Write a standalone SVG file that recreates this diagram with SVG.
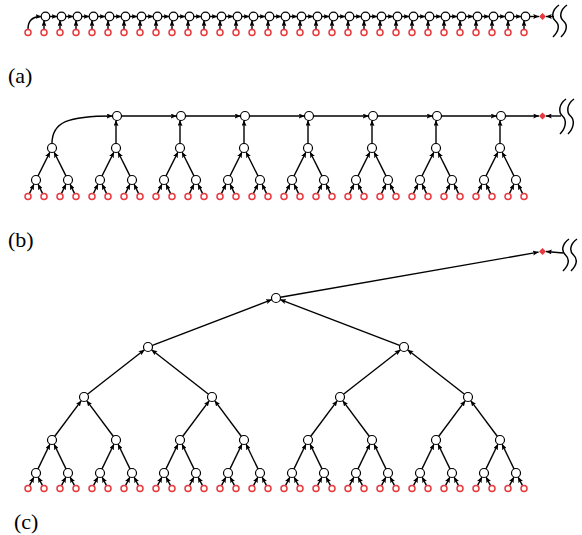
<svg xmlns="http://www.w3.org/2000/svg" width="582" height="535" viewBox="0 0 582 535">
<style>
.n{fill:#fff;stroke:#000;stroke-width:1.2}
.lf{fill:#fff;stroke:#e8383d;stroke-width:1.5}
.dm{fill:#e8383d}
.e{stroke:#000;stroke-width:1.4;fill:none;marker-end:url(#ah)}
.wv{fill:none;stroke:#000;stroke-width:1.5}
</style>
<defs>
<marker id="ah" markerUnits="userSpaceOnUse" markerWidth="6" markerHeight="5" refX="5.8" refY="2.5" orient="auto">
<path d="M0,0 L6,2.5 L0,5 L1.2,2.5 z" fill="#000"/>
</marker>
</defs>
<rect width="582" height="535" fill="#fff"/>

<!-- ============ (a) ============ -->
<g id="a-connectors">
<path class="e" d="M28,29 C28,20 33,16.5 41.3,16.5"/>
<line class="e" x1="44" y1="29" x2="44" y2="20.5"/><line class="e" x1="60" y1="29" x2="60" y2="20.5"/><line class="e" x1="76" y1="29" x2="76" y2="20.5"/><line class="e" x1="92" y1="29" x2="92" y2="20.5"/><line class="e" x1="108" y1="29" x2="108" y2="20.5"/><line class="e" x1="124" y1="29" x2="124" y2="20.5"/><line class="e" x1="140" y1="29" x2="140" y2="20.5"/><line class="e" x1="156" y1="29" x2="156" y2="20.5"/><line class="e" x1="172" y1="29" x2="172" y2="20.5"/><line class="e" x1="188" y1="29" x2="188" y2="20.5"/><line class="e" x1="204" y1="29" x2="204" y2="20.5"/><line class="e" x1="220" y1="29" x2="220" y2="20.5"/><line class="e" x1="236" y1="29" x2="236" y2="20.5"/><line class="e" x1="252" y1="29" x2="252" y2="20.5"/><line class="e" x1="268" y1="29" x2="268" y2="20.5"/><line class="e" x1="284" y1="29" x2="284" y2="20.5"/><line class="e" x1="300" y1="29" x2="300" y2="20.5"/><line class="e" x1="316" y1="29" x2="316" y2="20.5"/><line class="e" x1="332" y1="29" x2="332" y2="20.5"/><line class="e" x1="348" y1="29" x2="348" y2="20.5"/><line class="e" x1="364" y1="29" x2="364" y2="20.5"/><line class="e" x1="380" y1="29" x2="380" y2="20.5"/><line class="e" x1="396" y1="29" x2="396" y2="20.5"/><line class="e" x1="412" y1="29" x2="412" y2="20.5"/><line class="e" x1="428" y1="29" x2="428" y2="20.5"/><line class="e" x1="444" y1="29" x2="444" y2="20.5"/><line class="e" x1="460" y1="29" x2="460" y2="20.5"/><line class="e" x1="476" y1="29" x2="476" y2="20.5"/><line class="e" x1="492" y1="29" x2="492" y2="20.5"/><line class="e" x1="508" y1="29" x2="508" y2="20.5"/><line class="e" x1="524" y1="29" x2="524" y2="20.5"/>
<line class="e" x1="49.8" y1="16.5" x2="57.3" y2="16.5"/><line class="e" x1="65.8" y1="16.5" x2="73.3" y2="16.5"/><line class="e" x1="81.8" y1="16.5" x2="89.3" y2="16.5"/><line class="e" x1="97.8" y1="16.5" x2="105.3" y2="16.5"/><line class="e" x1="113.8" y1="16.5" x2="121.3" y2="16.5"/><line class="e" x1="129.8" y1="16.5" x2="137.3" y2="16.5"/><line class="e" x1="145.8" y1="16.5" x2="153.3" y2="16.5"/><line class="e" x1="161.8" y1="16.5" x2="169.3" y2="16.5"/><line class="e" x1="177.8" y1="16.5" x2="185.3" y2="16.5"/><line class="e" x1="193.8" y1="16.5" x2="201.3" y2="16.5"/><line class="e" x1="209.8" y1="16.5" x2="217.3" y2="16.5"/><line class="e" x1="225.8" y1="16.5" x2="233.3" y2="16.5"/><line class="e" x1="241.8" y1="16.5" x2="249.3" y2="16.5"/><line class="e" x1="257.8" y1="16.5" x2="265.3" y2="16.5"/><line class="e" x1="273.8" y1="16.5" x2="281.3" y2="16.5"/><line class="e" x1="289.8" y1="16.5" x2="297.3" y2="16.5"/><line class="e" x1="305.8" y1="16.5" x2="313.3" y2="16.5"/><line class="e" x1="321.8" y1="16.5" x2="329.3" y2="16.5"/><line class="e" x1="337.8" y1="16.5" x2="345.3" y2="16.5"/><line class="e" x1="353.8" y1="16.5" x2="361.3" y2="16.5"/><line class="e" x1="369.8" y1="16.5" x2="377.3" y2="16.5"/><line class="e" x1="385.8" y1="16.5" x2="393.3" y2="16.5"/><line class="e" x1="401.8" y1="16.5" x2="409.3" y2="16.5"/><line class="e" x1="417.8" y1="16.5" x2="425.3" y2="16.5"/><line class="e" x1="433.8" y1="16.5" x2="441.3" y2="16.5"/><line class="e" x1="449.8" y1="16.5" x2="457.3" y2="16.5"/><line class="e" x1="465.8" y1="16.5" x2="473.3" y2="16.5"/><line class="e" x1="481.8" y1="16.5" x2="489.3" y2="16.5"/><line class="e" x1="497.8" y1="16.5" x2="505.3" y2="16.5"/><line class="e" x1="513.8" y1="16.5" x2="521.3" y2="16.5"/>
<line class="e" x1="529.8" y1="16.5" x2="539" y2="16.5"/>
<line class="e" x1="554" y1="16.5" x2="546" y2="16.5"/>
</g>
<g id="a-leaves">
<g id="a-leaf-0"><circle class="lf" cx="28" cy="32.5" r="3"/></g><g id="a-leaf-1"><circle class="lf" cx="44" cy="32.5" r="3"/></g><g id="a-leaf-2"><circle class="lf" cx="60" cy="32.5" r="3"/></g><g id="a-leaf-3"><circle class="lf" cx="76" cy="32.5" r="3"/></g><g id="a-leaf-4"><circle class="lf" cx="92" cy="32.5" r="3"/></g><g id="a-leaf-5"><circle class="lf" cx="108" cy="32.5" r="3"/></g><g id="a-leaf-6"><circle class="lf" cx="124" cy="32.5" r="3"/></g><g id="a-leaf-7"><circle class="lf" cx="140" cy="32.5" r="3"/></g><g id="a-leaf-8"><circle class="lf" cx="156" cy="32.5" r="3"/></g><g id="a-leaf-9"><circle class="lf" cx="172" cy="32.5" r="3"/></g><g id="a-leaf-10"><circle class="lf" cx="188" cy="32.5" r="3"/></g><g id="a-leaf-11"><circle class="lf" cx="204" cy="32.5" r="3"/></g><g id="a-leaf-12"><circle class="lf" cx="220" cy="32.5" r="3"/></g><g id="a-leaf-13"><circle class="lf" cx="236" cy="32.5" r="3"/></g><g id="a-leaf-14"><circle class="lf" cx="252" cy="32.5" r="3"/></g><g id="a-leaf-15"><circle class="lf" cx="268" cy="32.5" r="3"/></g><g id="a-leaf-16"><circle class="lf" cx="284" cy="32.5" r="3"/></g><g id="a-leaf-17"><circle class="lf" cx="300" cy="32.5" r="3"/></g><g id="a-leaf-18"><circle class="lf" cx="316" cy="32.5" r="3"/></g><g id="a-leaf-19"><circle class="lf" cx="332" cy="32.5" r="3"/></g><g id="a-leaf-20"><circle class="lf" cx="348" cy="32.5" r="3"/></g><g id="a-leaf-21"><circle class="lf" cx="364" cy="32.5" r="3"/></g><g id="a-leaf-22"><circle class="lf" cx="380" cy="32.5" r="3"/></g><g id="a-leaf-23"><circle class="lf" cx="396" cy="32.5" r="3"/></g><g id="a-leaf-24"><circle class="lf" cx="412" cy="32.5" r="3"/></g><g id="a-leaf-25"><circle class="lf" cx="428" cy="32.5" r="3"/></g><g id="a-leaf-26"><circle class="lf" cx="444" cy="32.5" r="3"/></g><g id="a-leaf-27"><circle class="lf" cx="460" cy="32.5" r="3"/></g><g id="a-leaf-28"><circle class="lf" cx="476" cy="32.5" r="3"/></g><g id="a-leaf-29"><circle class="lf" cx="492" cy="32.5" r="3"/></g><g id="a-leaf-30"><circle class="lf" cx="508" cy="32.5" r="3"/></g><g id="a-leaf-31"><circle class="lf" cx="524" cy="32.5" r="3"/></g>
</g>
<g id="a-chain">
<g id="a-n-1"><circle class="n" cx="45.5" cy="16.5" r="4.3"/></g><g id="a-n-2"><circle class="n" cx="61.5" cy="16.5" r="4.3"/></g><g id="a-n-3"><circle class="n" cx="77.5" cy="16.5" r="4.3"/></g><g id="a-n-4"><circle class="n" cx="93.5" cy="16.5" r="4.3"/></g><g id="a-n-5"><circle class="n" cx="109.5" cy="16.5" r="4.3"/></g><g id="a-n-6"><circle class="n" cx="125.5" cy="16.5" r="4.3"/></g><g id="a-n-7"><circle class="n" cx="141.5" cy="16.5" r="4.3"/></g><g id="a-n-8"><circle class="n" cx="157.5" cy="16.5" r="4.3"/></g><g id="a-n-9"><circle class="n" cx="173.5" cy="16.5" r="4.3"/></g><g id="a-n-10"><circle class="n" cx="189.5" cy="16.5" r="4.3"/></g><g id="a-n-11"><circle class="n" cx="205.5" cy="16.5" r="4.3"/></g><g id="a-n-12"><circle class="n" cx="221.5" cy="16.5" r="4.3"/></g><g id="a-n-13"><circle class="n" cx="237.5" cy="16.5" r="4.3"/></g><g id="a-n-14"><circle class="n" cx="253.5" cy="16.5" r="4.3"/></g><g id="a-n-15"><circle class="n" cx="269.5" cy="16.5" r="4.3"/></g><g id="a-n-16"><circle class="n" cx="285.5" cy="16.5" r="4.3"/></g><g id="a-n-17"><circle class="n" cx="301.5" cy="16.5" r="4.3"/></g><g id="a-n-18"><circle class="n" cx="317.5" cy="16.5" r="4.3"/></g><g id="a-n-19"><circle class="n" cx="333.5" cy="16.5" r="4.3"/></g><g id="a-n-20"><circle class="n" cx="349.5" cy="16.5" r="4.3"/></g><g id="a-n-21"><circle class="n" cx="365.5" cy="16.5" r="4.3"/></g><g id="a-n-22"><circle class="n" cx="381.5" cy="16.5" r="4.3"/></g><g id="a-n-23"><circle class="n" cx="397.5" cy="16.5" r="4.3"/></g><g id="a-n-24"><circle class="n" cx="413.5" cy="16.5" r="4.3"/></g><g id="a-n-25"><circle class="n" cx="429.5" cy="16.5" r="4.3"/></g><g id="a-n-26"><circle class="n" cx="445.5" cy="16.5" r="4.3"/></g><g id="a-n-27"><circle class="n" cx="461.5" cy="16.5" r="4.3"/></g><g id="a-n-28"><circle class="n" cx="477.5" cy="16.5" r="4.3"/></g><g id="a-n-29"><circle class="n" cx="493.5" cy="16.5" r="4.3"/></g><g id="a-n-30"><circle class="n" cx="509.5" cy="16.5" r="4.3"/></g><g id="a-n-31"><circle class="n" cx="525.5" cy="16.5" r="4.3"/></g>
</g>
<g id="a-out"><polygon class="dm" points="542.5,13 546,16.5 542.5,20 539,16.5"/></g>
<g id="a-wave"><path class="wv" d="M559,5 C552,10 551,17 555.5,21 C560,25 559,31 553,37"/><path class="wv" d="M567,5 C560,10 559,17 563.5,21 C568,25 567,31 561,37"/></g>
<text x="8" y="83" font-family="'Liberation Serif','Times New Roman',serif" font-size="22">(a)</text>

<!-- ============ (b) ============ -->
<g id="b-connectors">
<path class="e" d="M52,143.5 C52,122 68,116 112.5,116"/>
<line class="e" x1="116" y1="143.5" x2="116" y2="120.3"/><line class="e" x1="180" y1="143.5" x2="180" y2="120.3"/><line class="e" x1="244" y1="143.5" x2="244" y2="120.3"/><line class="e" x1="308" y1="143.5" x2="308" y2="120.3"/><line class="e" x1="372" y1="143.5" x2="372" y2="120.3"/><line class="e" x1="436" y1="143.5" x2="436" y2="120.3"/><line class="e" x1="500" y1="143.5" x2="500" y2="120.3"/>
<line class="e" x1="121.5" y1="116" x2="176.5" y2="116"/><line class="e" x1="185.5" y1="116" x2="240.5" y2="116"/><line class="e" x1="249.5" y1="116" x2="304.5" y2="116"/><line class="e" x1="313.5" y1="116" x2="368.5" y2="116"/><line class="e" x1="377.5" y1="116" x2="432.5" y2="116"/><line class="e" x1="441.5" y1="116" x2="496.5" y2="116"/>
<line class="e" x1="505.5" y1="116" x2="539" y2="116"/>
<line class="e" x1="561" y1="116" x2="546" y2="116"/>
<line class="e" x1="37.79" y1="176.42" x2="50.0" y2="152.0"/><line class="e" x1="66.21" y1="176.42" x2="54.0" y2="152.0"/>
<line class="e" x1="101.79" y1="176.42" x2="114.0" y2="152.0"/><line class="e" x1="130.21" y1="176.42" x2="118.0" y2="152.0"/>
<line class="e" x1="165.79" y1="176.42" x2="178.0" y2="152.0"/><line class="e" x1="194.21" y1="176.42" x2="182.0" y2="152.0"/>
<line class="e" x1="229.79" y1="176.42" x2="242.0" y2="152.0"/><line class="e" x1="258.21" y1="176.42" x2="246.0" y2="152.0"/>
<line class="e" x1="293.79" y1="176.42" x2="306.0" y2="152.0"/><line class="e" x1="322.21" y1="176.42" x2="310.0" y2="152.0"/>
<line class="e" x1="357.79" y1="176.42" x2="370.0" y2="152.0"/><line class="e" x1="386.21" y1="176.42" x2="374.0" y2="152.0"/>
<line class="e" x1="421.79" y1="176.42" x2="434.0" y2="152.0"/><line class="e" x1="450.21" y1="176.42" x2="438.0" y2="152.0"/>
<line class="e" x1="485.79" y1="176.42" x2="498.0" y2="152.0"/><line class="e" x1="514.21" y1="176.42" x2="502.0" y2="152.0"/>
<line class="e" x1="29.53" y1="193.35" x2="34.04" y2="184.05"/><line class="e" x1="42.47" y1="193.35" x2="37.96" y2="184.05"/>
<line class="e" x1="61.53" y1="193.35" x2="66.04" y2="184.05"/><line class="e" x1="74.47" y1="193.35" x2="69.96" y2="184.05"/>
<line class="e" x1="93.53" y1="193.35" x2="98.04" y2="184.05"/><line class="e" x1="106.47" y1="193.35" x2="101.96" y2="184.05"/>
<line class="e" x1="125.53" y1="193.35" x2="130.04" y2="184.05"/><line class="e" x1="138.47" y1="193.35" x2="133.96" y2="184.05"/>
<line class="e" x1="157.53" y1="193.35" x2="162.04" y2="184.05"/><line class="e" x1="170.47" y1="193.35" x2="165.96" y2="184.05"/>
<line class="e" x1="189.53" y1="193.35" x2="194.04" y2="184.05"/><line class="e" x1="202.47" y1="193.35" x2="197.96" y2="184.05"/>
<line class="e" x1="221.53" y1="193.35" x2="226.04" y2="184.05"/><line class="e" x1="234.47" y1="193.35" x2="229.96" y2="184.05"/>
<line class="e" x1="253.53" y1="193.35" x2="258.04" y2="184.05"/><line class="e" x1="266.47" y1="193.35" x2="261.96" y2="184.05"/>
<line class="e" x1="285.53" y1="193.35" x2="290.04" y2="184.05"/><line class="e" x1="298.47" y1="193.35" x2="293.96" y2="184.05"/>
<line class="e" x1="317.53" y1="193.35" x2="322.04" y2="184.05"/><line class="e" x1="330.47" y1="193.35" x2="325.96" y2="184.05"/>
<line class="e" x1="349.53" y1="193.35" x2="354.04" y2="184.05"/><line class="e" x1="362.47" y1="193.35" x2="357.96" y2="184.05"/>
<line class="e" x1="381.53" y1="193.35" x2="386.04" y2="184.05"/><line class="e" x1="394.47" y1="193.35" x2="389.96" y2="184.05"/>
<line class="e" x1="413.53" y1="193.35" x2="418.04" y2="184.05"/><line class="e" x1="426.47" y1="193.35" x2="421.96" y2="184.05"/>
<line class="e" x1="445.53" y1="193.35" x2="450.04" y2="184.05"/><line class="e" x1="458.47" y1="193.35" x2="453.96" y2="184.05"/>
<line class="e" x1="477.53" y1="193.35" x2="482.04" y2="184.05"/><line class="e" x1="490.47" y1="193.35" x2="485.96" y2="184.05"/>
<line class="e" x1="509.53" y1="193.35" x2="514.04" y2="184.05"/><line class="e" x1="522.47" y1="193.35" x2="517.96" y2="184.05"/>
</g>
<g id="b-leaves">
<g id="b-leaf-0"><circle class="lf" cx="28" cy="196.5" r="3"/></g><g id="b-leaf-1"><circle class="lf" cx="44" cy="196.5" r="3"/></g><g id="b-leaf-2"><circle class="lf" cx="60" cy="196.5" r="3"/></g><g id="b-leaf-3"><circle class="lf" cx="76" cy="196.5" r="3"/></g><g id="b-leaf-4"><circle class="lf" cx="92" cy="196.5" r="3"/></g><g id="b-leaf-5"><circle class="lf" cx="108" cy="196.5" r="3"/></g><g id="b-leaf-6"><circle class="lf" cx="124" cy="196.5" r="3"/></g><g id="b-leaf-7"><circle class="lf" cx="140" cy="196.5" r="3"/></g><g id="b-leaf-8"><circle class="lf" cx="156" cy="196.5" r="3"/></g><g id="b-leaf-9"><circle class="lf" cx="172" cy="196.5" r="3"/></g><g id="b-leaf-10"><circle class="lf" cx="188" cy="196.5" r="3"/></g><g id="b-leaf-11"><circle class="lf" cx="204" cy="196.5" r="3"/></g><g id="b-leaf-12"><circle class="lf" cx="220" cy="196.5" r="3"/></g><g id="b-leaf-13"><circle class="lf" cx="236" cy="196.5" r="3"/></g><g id="b-leaf-14"><circle class="lf" cx="252" cy="196.5" r="3"/></g><g id="b-leaf-15"><circle class="lf" cx="268" cy="196.5" r="3"/></g><g id="b-leaf-16"><circle class="lf" cx="284" cy="196.5" r="3"/></g><g id="b-leaf-17"><circle class="lf" cx="300" cy="196.5" r="3"/></g><g id="b-leaf-18"><circle class="lf" cx="316" cy="196.5" r="3"/></g><g id="b-leaf-19"><circle class="lf" cx="332" cy="196.5" r="3"/></g><g id="b-leaf-20"><circle class="lf" cx="348" cy="196.5" r="3"/></g><g id="b-leaf-21"><circle class="lf" cx="364" cy="196.5" r="3"/></g><g id="b-leaf-22"><circle class="lf" cx="380" cy="196.5" r="3"/></g><g id="b-leaf-23"><circle class="lf" cx="396" cy="196.5" r="3"/></g><g id="b-leaf-24"><circle class="lf" cx="412" cy="196.5" r="3"/></g><g id="b-leaf-25"><circle class="lf" cx="428" cy="196.5" r="3"/></g><g id="b-leaf-26"><circle class="lf" cx="444" cy="196.5" r="3"/></g><g id="b-leaf-27"><circle class="lf" cx="460" cy="196.5" r="3"/></g><g id="b-leaf-28"><circle class="lf" cx="476" cy="196.5" r="3"/></g><g id="b-leaf-29"><circle class="lf" cx="492" cy="196.5" r="3"/></g><g id="b-leaf-30"><circle class="lf" cx="508" cy="196.5" r="3"/></g><g id="b-leaf-31"><circle class="lf" cx="524" cy="196.5" r="3"/></g>
</g>
<g id="b-level1">
<g id="b-l1-0"><circle class="n" cx="36" cy="180" r="4.5"/></g><g id="b-l1-1"><circle class="n" cx="68" cy="180" r="4.5"/></g><g id="b-l1-2"><circle class="n" cx="100" cy="180" r="4.5"/></g><g id="b-l1-3"><circle class="n" cx="132" cy="180" r="4.5"/></g><g id="b-l1-4"><circle class="n" cx="164" cy="180" r="4.5"/></g><g id="b-l1-5"><circle class="n" cx="196" cy="180" r="4.5"/></g><g id="b-l1-6"><circle class="n" cx="228" cy="180" r="4.5"/></g><g id="b-l1-7"><circle class="n" cx="260" cy="180" r="4.5"/></g><g id="b-l1-8"><circle class="n" cx="292" cy="180" r="4.5"/></g><g id="b-l1-9"><circle class="n" cx="324" cy="180" r="4.5"/></g><g id="b-l1-10"><circle class="n" cx="356" cy="180" r="4.5"/></g><g id="b-l1-11"><circle class="n" cx="388" cy="180" r="4.5"/></g><g id="b-l1-12"><circle class="n" cx="420" cy="180" r="4.5"/></g><g id="b-l1-13"><circle class="n" cx="452" cy="180" r="4.5"/></g><g id="b-l1-14"><circle class="n" cx="484" cy="180" r="4.5"/></g><g id="b-l1-15"><circle class="n" cx="516" cy="180" r="4.5"/></g>
</g>
<g id="b-level2">
<g id="b-r-0"><circle class="n" cx="52" cy="148" r="4.5"/></g><g id="b-r-1"><circle class="n" cx="116" cy="148" r="4.5"/></g><g id="b-r-2"><circle class="n" cx="180" cy="148" r="4.5"/></g><g id="b-r-3"><circle class="n" cx="244" cy="148" r="4.5"/></g><g id="b-r-4"><circle class="n" cx="308" cy="148" r="4.5"/></g><g id="b-r-5"><circle class="n" cx="372" cy="148" r="4.5"/></g><g id="b-r-6"><circle class="n" cx="436" cy="148" r="4.5"/></g><g id="b-r-7"><circle class="n" cx="500" cy="148" r="4.5"/></g>
</g>
<g id="b-chain">
<g id="b-c-1"><circle class="n" cx="117" cy="116" r="4.5"/></g><g id="b-c-2"><circle class="n" cx="181" cy="116" r="4.5"/></g><g id="b-c-3"><circle class="n" cx="245" cy="116" r="4.5"/></g><g id="b-c-4"><circle class="n" cx="309" cy="116" r="4.5"/></g><g id="b-c-5"><circle class="n" cx="373" cy="116" r="4.5"/></g><g id="b-c-6"><circle class="n" cx="437" cy="116" r="4.5"/></g><g id="b-c-7"><circle class="n" cx="501" cy="116" r="4.5"/></g>
</g>
<g id="b-out"><polygon class="dm" points="542.5,112.5 546,116 542.5,119.5 539,116"/></g>
<g id="b-wave"><path class="wv" d="M566,99 C559,104 558,112 562.5,116 C567,120 566,128 560,134"/><path class="wv" d="M574,99 C567,104 566,112 570.5,116 C575,120 574,128 568,134"/></g>
<text x="8" y="247" font-family="'Liberation Serif','Times New Roman',serif" font-size="22">(b)</text>

<!-- ============ (c) ============ -->
<g id="c-connectors">
<line class="e" x1="280.4" y1="297.2" x2="538.6" y2="252.1"/>
<line class="e" x1="563" y1="253" x2="546" y2="251.5"/>
<line class="e" x1="151.74" y1="345.57" x2="271.8" y2="299.6"/><line class="e" x1="400.26" y1="345.57" x2="280.2" y2="299.6"/>
<line class="e" x1="87.15" y1="394.54" x2="144.45" y2="349.77"/><line class="e" x1="208.85" y1="394.54" x2="151.55" y2="349.77"/>
<line class="e" x1="343.15" y1="394.54" x2="400.45" y2="349.77"/><line class="e" x1="464.85" y1="394.54" x2="407.55" y2="349.77"/>
<line class="e" x1="54.39" y1="436.79" x2="81.31" y2="400.61"/><line class="e" x1="113.61" y1="436.79" x2="86.69" y2="400.61"/>
<line class="e" x1="182.39" y1="436.79" x2="209.31" y2="400.61"/><line class="e" x1="241.61" y1="436.79" x2="214.69" y2="400.61"/>
<line class="e" x1="310.39" y1="436.79" x2="337.31" y2="400.61"/><line class="e" x1="369.61" y1="436.79" x2="342.69" y2="400.61"/>
<line class="e" x1="438.39" y1="436.79" x2="465.31" y2="400.61"/><line class="e" x1="497.61" y1="436.79" x2="470.69" y2="400.61"/>
<line class="e" x1="37.75" y1="469.4" x2="50.04" y2="444.05"/><line class="e" x1="66.25" y1="469.4" x2="53.96" y2="444.05"/>
<line class="e" x1="101.75" y1="469.4" x2="114.04" y2="444.05"/><line class="e" x1="130.25" y1="469.4" x2="117.96" y2="444.05"/>
<line class="e" x1="165.75" y1="469.4" x2="178.04" y2="444.05"/><line class="e" x1="194.25" y1="469.4" x2="181.96" y2="444.05"/>
<line class="e" x1="229.75" y1="469.4" x2="242.04" y2="444.05"/><line class="e" x1="258.25" y1="469.4" x2="245.96" y2="444.05"/>
<line class="e" x1="293.75" y1="469.4" x2="306.04" y2="444.05"/><line class="e" x1="322.25" y1="469.4" x2="309.96" y2="444.05"/>
<line class="e" x1="357.75" y1="469.4" x2="370.04" y2="444.05"/><line class="e" x1="386.25" y1="469.4" x2="373.96" y2="444.05"/>
<line class="e" x1="421.75" y1="469.4" x2="434.04" y2="444.05"/><line class="e" x1="450.25" y1="469.4" x2="437.96" y2="444.05"/>
<line class="e" x1="485.75" y1="469.4" x2="498.04" y2="444.05"/><line class="e" x1="514.25" y1="469.4" x2="501.96" y2="444.05"/>
<line class="e" x1="29.61" y1="485.39" x2="33.94" y2="477.0"/><line class="e" x1="42.39" y1="485.39" x2="38.06" y2="477.0"/>
<line class="e" x1="61.61" y1="485.39" x2="65.94" y2="477.0"/><line class="e" x1="74.39" y1="485.39" x2="70.06" y2="477.0"/>
<line class="e" x1="93.61" y1="485.39" x2="97.94" y2="477.0"/><line class="e" x1="106.39" y1="485.39" x2="102.06" y2="477.0"/>
<line class="e" x1="125.61" y1="485.39" x2="129.94" y2="477.0"/><line class="e" x1="138.39" y1="485.39" x2="134.06" y2="477.0"/>
<line class="e" x1="157.61" y1="485.39" x2="161.94" y2="477.0"/><line class="e" x1="170.39" y1="485.39" x2="166.06" y2="477.0"/>
<line class="e" x1="189.61" y1="485.39" x2="193.94" y2="477.0"/><line class="e" x1="202.39" y1="485.39" x2="198.06" y2="477.0"/>
<line class="e" x1="221.61" y1="485.39" x2="225.94" y2="477.0"/><line class="e" x1="234.39" y1="485.39" x2="230.06" y2="477.0"/>
<line class="e" x1="253.61" y1="485.39" x2="257.94" y2="477.0"/><line class="e" x1="266.39" y1="485.39" x2="262.06" y2="477.0"/>
<line class="e" x1="285.61" y1="485.39" x2="289.94" y2="477.0"/><line class="e" x1="298.39" y1="485.39" x2="294.06" y2="477.0"/>
<line class="e" x1="317.61" y1="485.39" x2="321.94" y2="477.0"/><line class="e" x1="330.39" y1="485.39" x2="326.06" y2="477.0"/>
<line class="e" x1="349.61" y1="485.39" x2="353.94" y2="477.0"/><line class="e" x1="362.39" y1="485.39" x2="358.06" y2="477.0"/>
<line class="e" x1="381.61" y1="485.39" x2="385.94" y2="477.0"/><line class="e" x1="394.39" y1="485.39" x2="390.06" y2="477.0"/>
<line class="e" x1="413.61" y1="485.39" x2="417.94" y2="477.0"/><line class="e" x1="426.39" y1="485.39" x2="422.06" y2="477.0"/>
<line class="e" x1="445.61" y1="485.39" x2="449.94" y2="477.0"/><line class="e" x1="458.39" y1="485.39" x2="454.06" y2="477.0"/>
<line class="e" x1="477.61" y1="485.39" x2="481.94" y2="477.0"/><line class="e" x1="490.39" y1="485.39" x2="486.06" y2="477.0"/>
<line class="e" x1="509.61" y1="485.39" x2="513.94" y2="477.0"/><line class="e" x1="522.39" y1="485.39" x2="518.06" y2="477.0"/>
</g>
<g id="c-leaves">
<g id="c-leaf-0"><circle class="lf" cx="28" cy="488.5" r="3"/></g><g id="c-leaf-1"><circle class="lf" cx="44" cy="488.5" r="3"/></g><g id="c-leaf-2"><circle class="lf" cx="60" cy="488.5" r="3"/></g><g id="c-leaf-3"><circle class="lf" cx="76" cy="488.5" r="3"/></g><g id="c-leaf-4"><circle class="lf" cx="92" cy="488.5" r="3"/></g><g id="c-leaf-5"><circle class="lf" cx="108" cy="488.5" r="3"/></g><g id="c-leaf-6"><circle class="lf" cx="124" cy="488.5" r="3"/></g><g id="c-leaf-7"><circle class="lf" cx="140" cy="488.5" r="3"/></g><g id="c-leaf-8"><circle class="lf" cx="156" cy="488.5" r="3"/></g><g id="c-leaf-9"><circle class="lf" cx="172" cy="488.5" r="3"/></g><g id="c-leaf-10"><circle class="lf" cx="188" cy="488.5" r="3"/></g><g id="c-leaf-11"><circle class="lf" cx="204" cy="488.5" r="3"/></g><g id="c-leaf-12"><circle class="lf" cx="220" cy="488.5" r="3"/></g><g id="c-leaf-13"><circle class="lf" cx="236" cy="488.5" r="3"/></g><g id="c-leaf-14"><circle class="lf" cx="252" cy="488.5" r="3"/></g><g id="c-leaf-15"><circle class="lf" cx="268" cy="488.5" r="3"/></g><g id="c-leaf-16"><circle class="lf" cx="284" cy="488.5" r="3"/></g><g id="c-leaf-17"><circle class="lf" cx="300" cy="488.5" r="3"/></g><g id="c-leaf-18"><circle class="lf" cx="316" cy="488.5" r="3"/></g><g id="c-leaf-19"><circle class="lf" cx="332" cy="488.5" r="3"/></g><g id="c-leaf-20"><circle class="lf" cx="348" cy="488.5" r="3"/></g><g id="c-leaf-21"><circle class="lf" cx="364" cy="488.5" r="3"/></g><g id="c-leaf-22"><circle class="lf" cx="380" cy="488.5" r="3"/></g><g id="c-leaf-23"><circle class="lf" cx="396" cy="488.5" r="3"/></g><g id="c-leaf-24"><circle class="lf" cx="412" cy="488.5" r="3"/></g><g id="c-leaf-25"><circle class="lf" cx="428" cy="488.5" r="3"/></g><g id="c-leaf-26"><circle class="lf" cx="444" cy="488.5" r="3"/></g><g id="c-leaf-27"><circle class="lf" cx="460" cy="488.5" r="3"/></g><g id="c-leaf-28"><circle class="lf" cx="476" cy="488.5" r="3"/></g><g id="c-leaf-29"><circle class="lf" cx="492" cy="488.5" r="3"/></g><g id="c-leaf-30"><circle class="lf" cx="508" cy="488.5" r="3"/></g><g id="c-leaf-31"><circle class="lf" cx="524" cy="488.5" r="3"/></g>
</g>
<g id="c-level1">
<g id="c-l1-0"><circle class="n" cx="36" cy="473" r="4.5"/></g><g id="c-l1-1"><circle class="n" cx="68" cy="473" r="4.5"/></g><g id="c-l1-2"><circle class="n" cx="100" cy="473" r="4.5"/></g><g id="c-l1-3"><circle class="n" cx="132" cy="473" r="4.5"/></g><g id="c-l1-4"><circle class="n" cx="164" cy="473" r="4.5"/></g><g id="c-l1-5"><circle class="n" cx="196" cy="473" r="4.5"/></g><g id="c-l1-6"><circle class="n" cx="228" cy="473" r="4.5"/></g><g id="c-l1-7"><circle class="n" cx="260" cy="473" r="4.5"/></g><g id="c-l1-8"><circle class="n" cx="292" cy="473" r="4.5"/></g><g id="c-l1-9"><circle class="n" cx="324" cy="473" r="4.5"/></g><g id="c-l1-10"><circle class="n" cx="356" cy="473" r="4.5"/></g><g id="c-l1-11"><circle class="n" cx="388" cy="473" r="4.5"/></g><g id="c-l1-12"><circle class="n" cx="420" cy="473" r="4.5"/></g><g id="c-l1-13"><circle class="n" cx="452" cy="473" r="4.5"/></g><g id="c-l1-14"><circle class="n" cx="484" cy="473" r="4.5"/></g><g id="c-l1-15"><circle class="n" cx="516" cy="473" r="4.5"/></g>
</g>
<g id="c-level2">
<g id="c-l2-0"><circle class="n" cx="52" cy="440" r="4.5"/></g><g id="c-l2-1"><circle class="n" cx="116" cy="440" r="4.5"/></g><g id="c-l2-2"><circle class="n" cx="180" cy="440" r="4.5"/></g><g id="c-l2-3"><circle class="n" cx="244" cy="440" r="4.5"/></g><g id="c-l2-4"><circle class="n" cx="308" cy="440" r="4.5"/></g><g id="c-l2-5"><circle class="n" cx="372" cy="440" r="4.5"/></g><g id="c-l2-6"><circle class="n" cx="436" cy="440" r="4.5"/></g><g id="c-l2-7"><circle class="n" cx="500" cy="440" r="4.5"/></g>
</g>
<g id="c-level3">
<g id="c-l3-0"><circle class="n" cx="84" cy="397" r="4.5"/></g><g id="c-l3-1"><circle class="n" cx="212" cy="397" r="4.5"/></g><g id="c-l3-2"><circle class="n" cx="340" cy="397" r="4.5"/></g><g id="c-l3-3"><circle class="n" cx="468" cy="397" r="4.5"/></g>
</g>
<g id="c-level4">
<g id="c-l4-0"><circle class="n" cx="148" cy="347" r="4.5"/></g><g id="c-l4-1"><circle class="n" cx="404" cy="347" r="4.5"/></g>
</g>
<g id="c-root"><circle class="n" cx="276" cy="298" r="4.5"/></g>
<g id="c-out"><polygon class="dm" points="542.5,248 546,251.5 542.5,255 539,251.5"/></g>
<g id="c-wave"><path class="wv" d="M569,239 C562,244 561,251 565.5,255 C570,259 569,265 563,271"/><path class="wv" d="M577,239 C570,244 569,251 573.5,255 C578,259 577,265 571,271"/></g>
<text x="14" y="529" font-family="'Liberation Serif','Times New Roman',serif" font-size="22">(c)</text>
</svg>
